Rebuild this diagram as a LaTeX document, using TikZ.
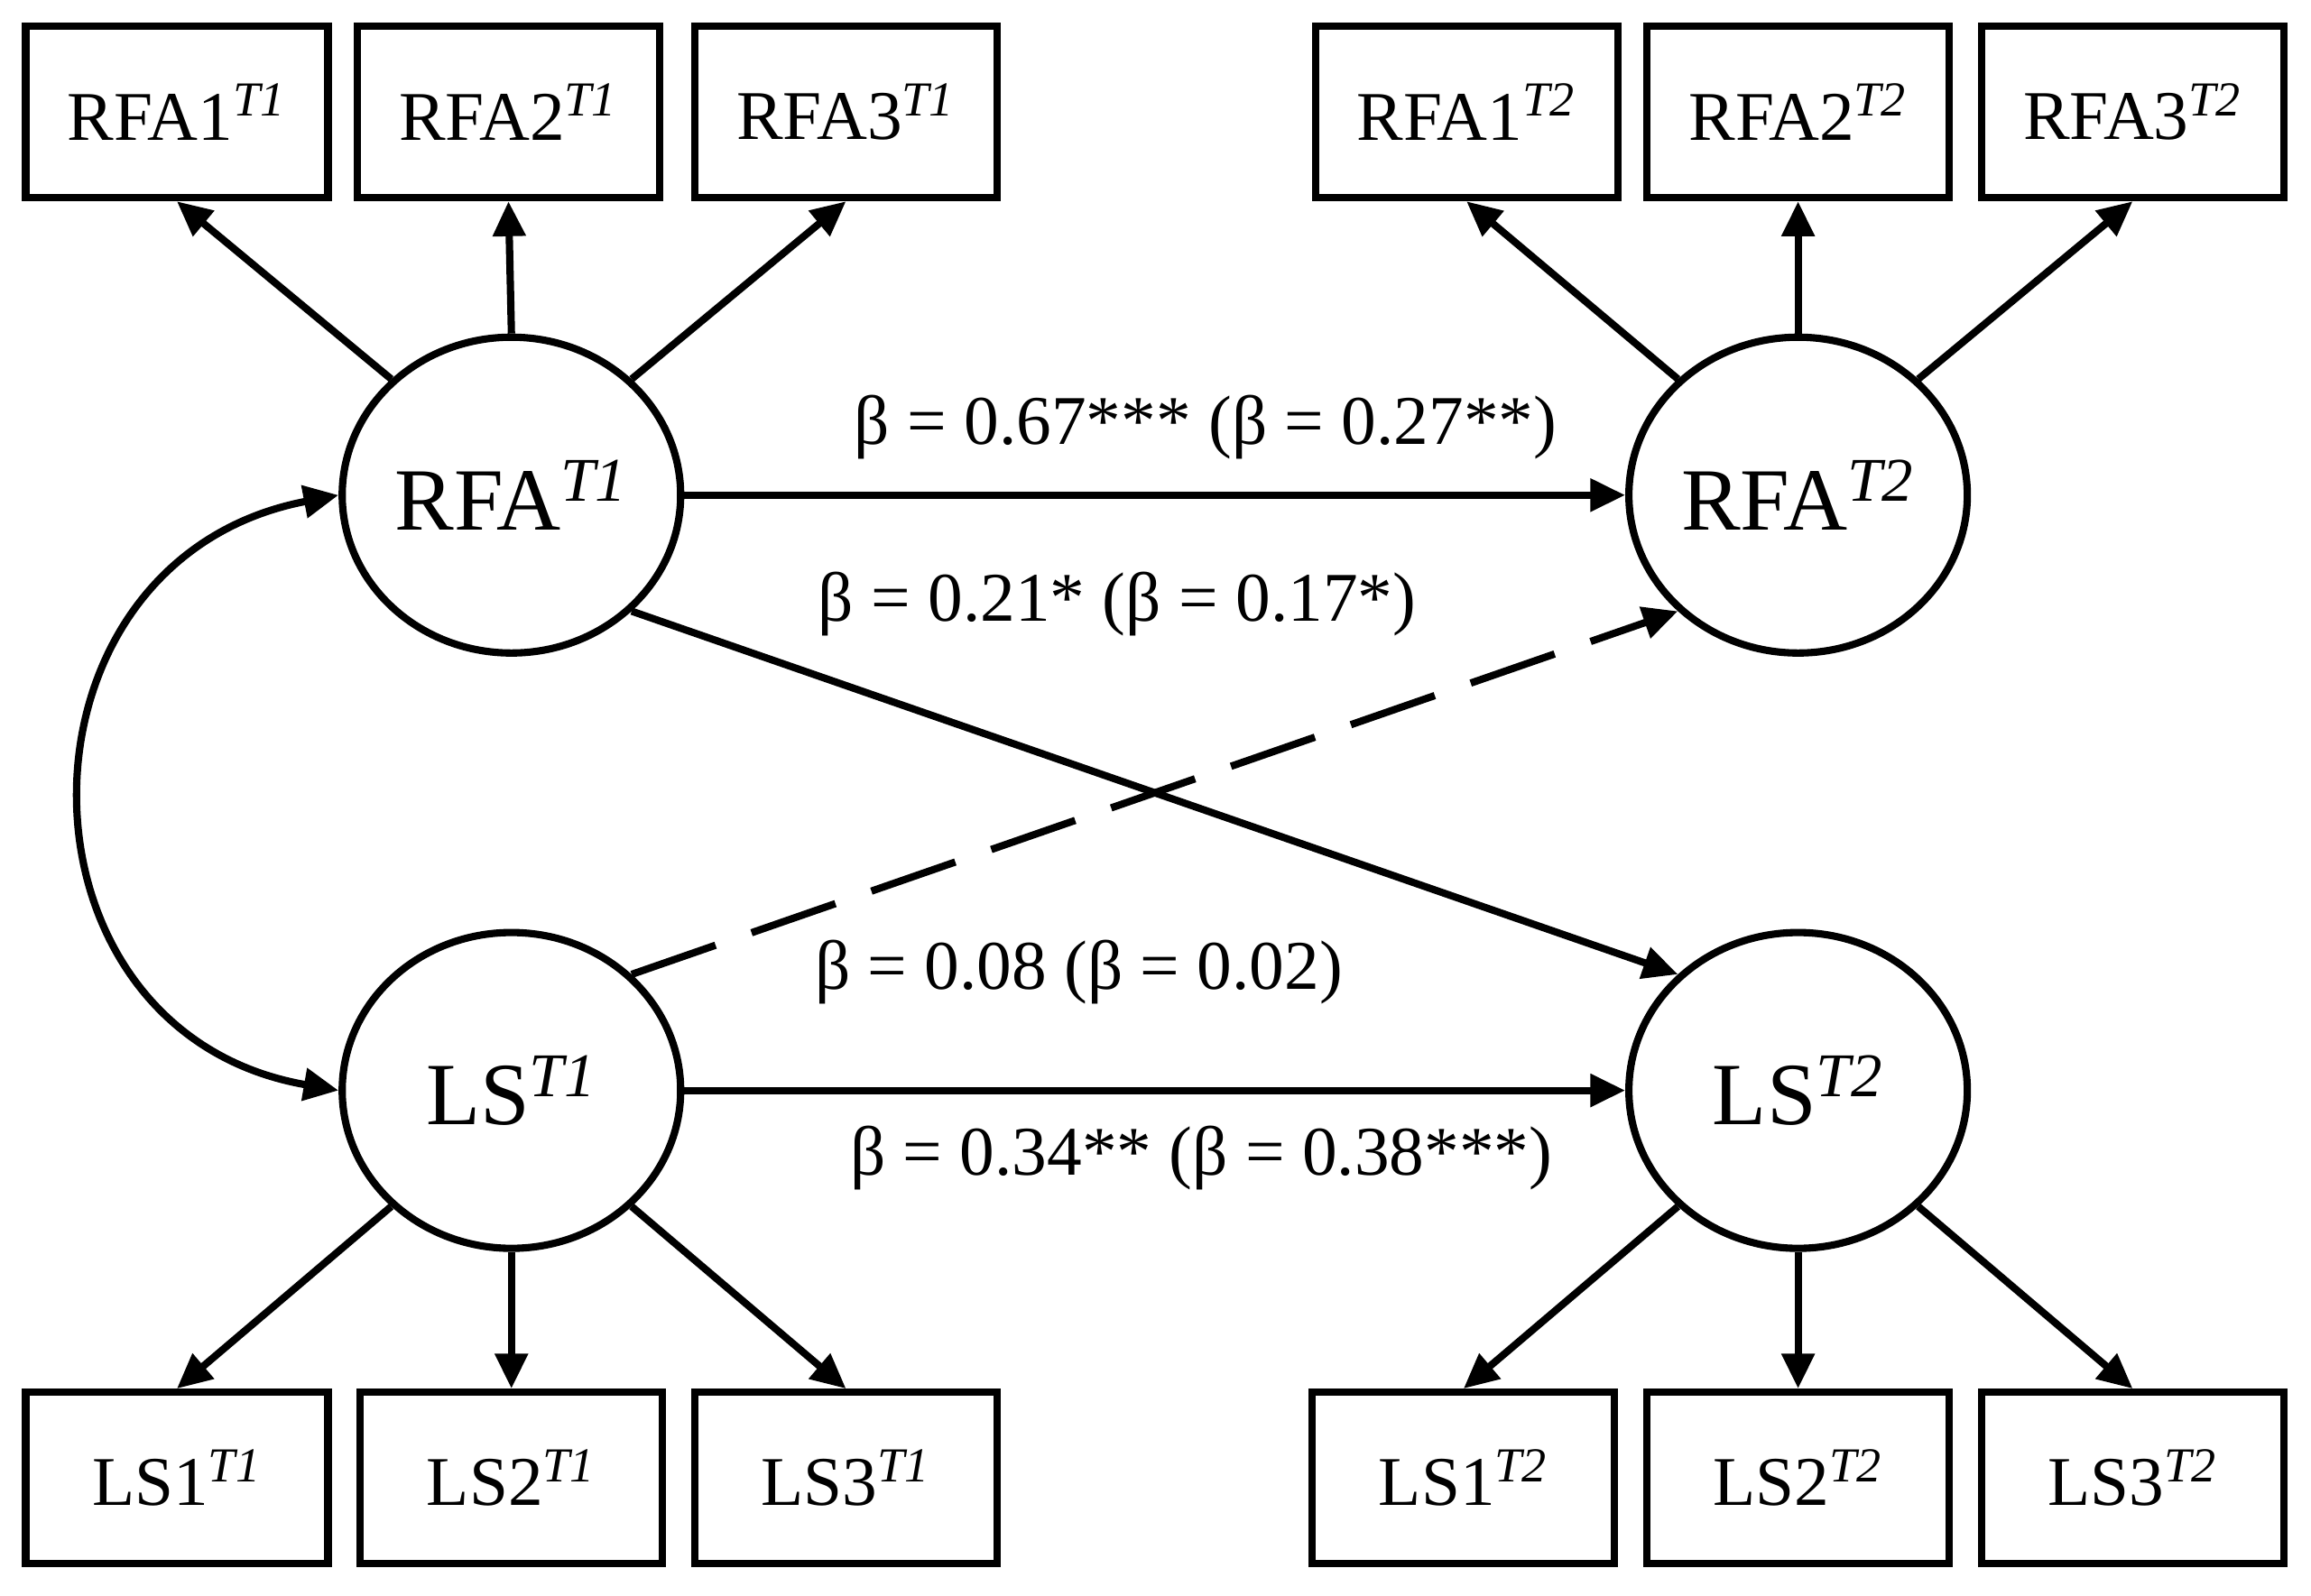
\documentclass[tikz,border=0pt]{standalone}
\usepackage{fontspec}
\setmainfont{Liberation Serif}
\usetikzlibrary{arrows.meta,shapes.geometric}
\newcommand{\tsup}[1]{\textsuperscript{\textit{#1}}}
\begin{document}
\begin{tikzpicture}[x=0.1633mm, y=-0.1633mm, line width=2.3pt,
    ind/.style = {draw, minimum width=33.5mm, minimum height=19mm, font=\fontsize{22}{26}\selectfont},
    lat/.style = {draw, ellipse, minimum width=37.5mm, minimum height=35mm, inner sep=0pt, font=\fontsize{28}{32}\selectfont},
    arr/.style = {-{Triangle[length=11pt,width=10pt]}},
    lab/.style = {font=\fontsize{22}{26}\selectfont}]
        \useasboundingbox (0,0) rectangle (1568,1083);

        % latent variables
        \node [lat] (rfaA) at (347,336) {RFA\tsup{T1}};
        \node [lat] (rfaB) at (1220,336) {RFA\tsup{T2}};
        \node [lat] (lsA) at (347,740) {LS\tsup{T1}};
        \node [lat] (lsB) at (1220,740) {LS\tsup{T2}};

        % indicators
        \node [ind] (rfa1A) at (120,76) {RFA1\tsup{T1}};
        \node [ind] (rfa2A) at (345,76) {RFA2\tsup{T1}};
        \node [ind] (rfa3A) at (574,76) {RFA3\tsup{T1}};
        \node [ind] (rfa1B) at (995,76) {RFA1\tsup{T2}};
        \node [ind] (rfa2B) at (1220,76) {RFA2\tsup{T2}};
        \node [ind] (rfa3B) at (1447,76) {RFA3\tsup{T2}};
        \node [ind] (ls1A) at (120,1003) {LS1\tsup{T1}};
        \node [ind] (ls2A) at (347,1003) {LS2\tsup{T1}};
        \node [ind] (ls3A) at (574,1003) {LS3\tsup{T1}};
        \node [ind] (ls1B) at (993,1003) {LS1\tsup{T2}};
        \node [ind] (ls2B) at (1220,1003) {LS2\tsup{T2}};
        \node [ind] (ls3B) at (1447,1003) {LS3\tsup{T2}};

        % loadings
        \draw [arr] (rfaA.136) -- (rfa1A.south);
        \draw [arr] (rfaA.north) -- (rfa2A.south);
        \draw [arr] (rfaA.44) -- (rfa3A.south);
        \draw [arr] (rfaB.136) -- (rfa1B.south);
        \draw [arr] (rfaB.north) -- (rfa2B.south);
        \draw [arr] (rfaB.44) -- (rfa3B.south);
        \draw [arr] (lsA.-136) -- (ls1A.north);
        \draw [arr] (lsA.south) -- (ls2A.north);
        \draw [arr] (lsA.-44) -- (ls3A.north);
        \draw [arr] (lsB.-136) -- (ls1B.north);
        \draw [arr] (lsB.south) -- (ls2B.north);
        \draw [arr] (lsB.-44) -- (ls3B.north);

        % paths
        \draw [arr] (rfaA.east) -- (rfaB.west);
        \draw [arr] (lsA.east) -- (lsB.west);
        \draw [arr] (rfaA.-44) -- (lsB.136);
        \draw [arr, dash pattern=on 28pt off 12pt] (lsA.44) -- (rfaB.-136);
        \draw [{Triangle[length=11pt,width=10pt]}-{Triangle[length=11pt,width=10pt]}]
            (rfaA.west) .. controls (0,380) and (0,700) .. (lsA.west);

        % coefficients
        \node [lab] at (818,290) {β = 0.67*** (β = 0.27**)};
        \node [lab] at (758,410) {β = 0.21* (β = 0.17*)};
        \node [lab] at (732,660) {β = 0.08 (β = 0.02)};
        \node [lab] at (815,786) {β = 0.34** (β = 0.38***)};
\end{tikzpicture}
\end{document}
